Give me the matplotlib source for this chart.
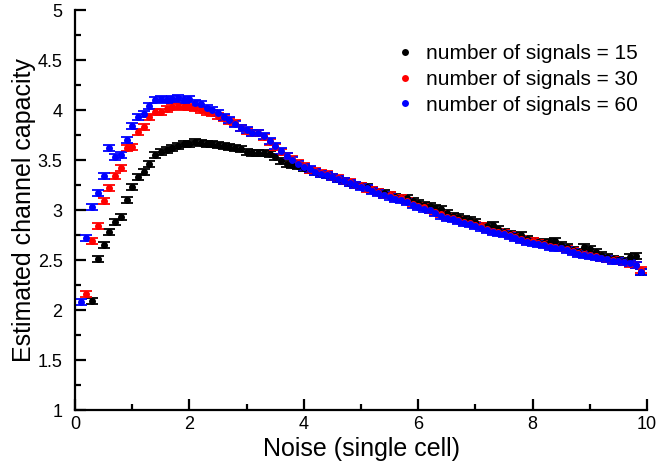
import numpy as np
import matplotlib.pyplot as plt
from matplotlib.lines import Line2D
from matplotlib.ticker import MultipleLocator

plt.rcParams['font.family'] = ['Liberation Sans', 'DejaVu Sans']

# noise levels (single cell), one point every 0.1
noise_60 = np.round(np.arange(1, 100) * 0.1, 1)
noise_30 = np.round(np.arange(2, 100) * 0.1, 1)
noise_15 = np.round(np.arange(3, 100) * 0.1, 1)

# estimated channel capacity for each number of signals
cap_60 = [
    2.08, 2.72, 3.03, 3.17, 3.34, 3.62, 3.53, 3.55, 3.70, 3.84,
    3.93, 3.96, 4.04, 4.10, 4.11, 4.10, 4.11, 4.12, 4.10, 4.11,
    4.07, 4.06, 4.02, 4.00, 3.97, 3.93, 3.90, 3.86, 3.82, 3.80,
    3.77, 3.77, 3.74, 3.69, 3.64, 3.59, 3.54, 3.50, 3.46, 3.43,
    3.41, 3.38, 3.36, 3.35, 3.33, 3.31, 3.29, 3.27, 3.25, 3.23,
    3.22, 3.19, 3.17, 3.15, 3.13, 3.11, 3.10, 3.08, 3.05, 3.03,
    3.01, 3.00, 2.97, 2.94, 2.92, 2.91, 2.89, 2.87, 2.86, 2.84,
    2.82, 2.80, 2.78, 2.77, 2.76, 2.74, 2.72, 2.70, 2.68, 2.67,
    2.66, 2.65, 2.63, 2.62, 2.62, 2.60, 2.58, 2.56, 2.55, 2.54,
    2.53, 2.52, 2.51, 2.49, 2.49, 2.48, 2.47, 2.45, 2.38,
]
cap_30 = [
    2.16, 2.69, 2.84, 3.09, 3.22, 3.34, 3.42, 3.62, 3.63,
    3.78, 3.83, 3.93, 3.98, 3.98, 4.01, 4.03, 4.04, 4.03, 4.03,
    4.02, 4.00, 3.98, 3.97, 3.94, 3.92, 3.89, 3.87, 3.82, 3.79,
    3.77, 3.77, 3.73, 3.68, 3.63, 3.58, 3.54, 3.51, 3.47, 3.44,
    3.40, 3.39, 3.37, 3.36, 3.33, 3.32, 3.29, 3.28, 3.25, 3.24,
    3.21, 3.20, 3.18, 3.15, 3.15, 3.12, 3.12, 3.09, 3.06, 3.04,
    3.03, 3.00, 2.98, 2.96, 2.93, 2.92, 2.90, 2.88, 2.87, 2.85,
    2.84, 2.81, 2.79, 2.78, 2.77, 2.75, 2.73, 2.71, 2.69, 2.69,
    2.67, 2.66, 2.64, 2.63, 2.62, 2.61, 2.59, 2.57, 2.56, 2.55,
    2.54, 2.52, 2.51, 2.50, 2.49, 2.48, 2.46, 2.45, 2.40,
]
cap_15 = [
    2.09, 2.51, 2.65, 2.78, 2.88, 2.93, 3.10, 3.23,
    3.33, 3.38, 3.46, 3.55, 3.58, 3.60, 3.62, 3.64, 3.66, 3.66,
    3.68, 3.67, 3.66, 3.66, 3.65, 3.64, 3.63, 3.62, 3.61, 3.58,
    3.57, 3.57, 3.57, 3.56, 3.53, 3.49, 3.46, 3.45, 3.44, 3.42,
    3.40, 3.38, 3.36, 3.35, 3.33, 3.31, 3.29, 3.27, 3.25, 3.24,
    3.23, 3.20, 3.18, 3.17, 3.15, 3.13, 3.12, 3.12, 3.09, 3.07,
    3.05, 3.04, 3.02, 3.01, 2.97, 2.94, 2.93, 2.91, 2.90, 2.88,
    2.84, 2.84, 2.85, 2.81, 2.78, 2.76, 2.74, 2.75, 2.71, 2.69,
    2.68, 2.67, 2.68, 2.69, 2.65, 2.63, 2.60, 2.58, 2.63, 2.61,
    2.58, 2.55, 2.53, 2.51, 2.50, 2.49, 2.53, 2.54, 2.38,
]
cap_err = 0.03

labels = ['number of signals = 15', 'number of signals = 30', 'number of signals = 60']
colors = ['black', 'red', 'blue']

fig = plt.figure(figsize=(6.57, 4.68), dpi=100)
ax = fig.add_axes([0.1142, 0.1239, 0.8706, 0.8547])

for x, y, c in zip([noise_15, noise_30, noise_60], [cap_15, cap_30, cap_60], colors):
    ax.errorbar(x, y, yerr=cap_err, fmt='o', color=c, ms=4,
                elinewidth=1.2, capsize=4.5, capthick=1.3)

ax.set_xlim(0, 10)
ax.set_ylim(1, 5)
ax.xaxis.set_major_locator(MultipleLocator(2))
ax.xaxis.set_minor_locator(MultipleLocator(1))
ax.yaxis.set_major_locator(MultipleLocator(0.5))
ax.yaxis.set_minor_locator(MultipleLocator(0.25))
ax.yaxis.set_major_formatter(plt.FuncFormatter(lambda v, p: f'{v:g}'))

for s in ['top', 'right']:
    ax.spines[s].set_visible(False)
for s in ['left', 'bottom']:
    ax.spines[s].set_linewidth(1.6)

ax.tick_params(which='both', direction='in', width=1.6, labelsize=13)
ax.tick_params(which='major', length=8)
ax.tick_params(which='minor', length=4)
ax.tick_params(axis='x', which='major', pad=4)
ax.tick_params(axis='y', which='major', pad=9)

ax.set_xlabel('Noise (single cell)', fontsize=18, labelpad=3)
ax.set_ylabel('Estimated channel capacity', fontsize=18, labelpad=1)

handles = [Line2D([], [], marker='o', ls='none', color=c, ms=5, mew=0) for c in colors]
ax.legend(handles, labels, loc='upper left', bbox_to_anchor=(395 / 657, 1 - 44 / 468),
          bbox_transform=fig.transFigure, frameon=False, fontsize=15,
          handlelength=1.0, handletextpad=0.5, labelspacing=0.33,
          borderpad=0, borderaxespad=0)

fig.savefig('out.png', dpi=100)
